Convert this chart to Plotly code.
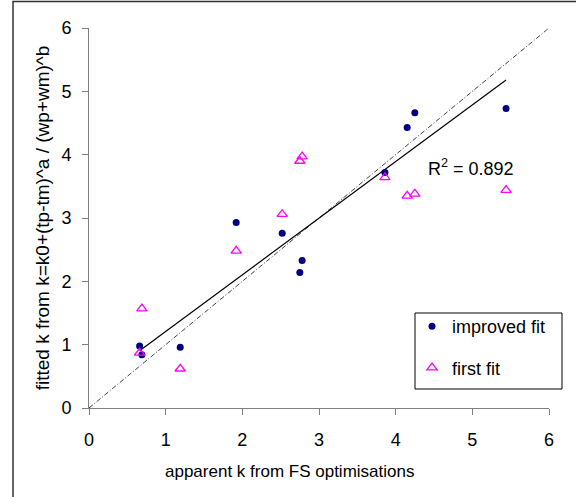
import numpy as np
import plotly.graph_objects as go

# apparent k from FS optimisations (x), fitted k (y)
x_vals = [0.66, 0.69, 1.19, 1.92, 2.52, 2.75, 2.78, 3.86, 4.15, 4.25, 5.44]
improved_fit = [0.98, 0.84, 0.96, 2.93, 2.76, 2.14, 2.33, 3.72, 4.43, 4.66, 4.73]
first_fit = [0.87, 1.57, 0.62, 2.48, 3.06, 3.90, 3.97, 3.64, 3.35, 3.38, 3.44]
tick_vals = [0, 1, 2, 3, 4, 5, 6]
r2_text = "R<sup>2</sup> = 0.892"
x_title = "apparent k from FS optimisations"
y_title = "fitted k from k=k0+(tp-tm)^a / (wp+wm)^b"

FONT = "Liberation Sans, Arial, sans-serif"

slope, intercept = np.polyfit(x_vals, improved_fit, 1)
tx = [min(x_vals), max(x_vals)]
ty = [slope * v + intercept for v in tx]

fig = go.Figure()
# 1:1 line
fig.add_trace(go.Scatter(x=[0, 6], y=[0, 6], mode="lines",
                         line=dict(color="#444444", width=1, dash="5px,2px,1px,2px"),
                         showlegend=False, hoverinfo="skip"))
# trendline
fig.add_trace(go.Scatter(x=tx, y=ty, mode="lines",
                         line=dict(color="black", width=1.2),
                         showlegend=False, hoverinfo="skip"))
fig.add_trace(go.Scatter(x=x_vals, y=improved_fit, mode="markers", name="improved fit",
                         legendgroup="a",
                         marker=dict(symbol="circle", size=7, color="#000080")))
fig.add_trace(go.Scatter(x=x_vals, y=first_fit, mode="markers", name="first fit",
                         legendgroup="b",
                         marker=dict(symbol="triangle-up-open", size=9, color="#FF00FF",
                                     line=dict(width=1.3, color="#FF00FF"))))

axis_common = dict(range=[0, 6], tickvals=tick_vals, showgrid=False, zeroline=False,
                   showline=True, linecolor="#808080", linewidth=1,
                   ticks="outside", ticklen=6, tickcolor="#808080",
                   tickfont=dict(family=FONT, size=18, color="black"))

fig.update_layout(
    width=576, height=497,
    margin=dict(l=89, r=27, t=28, b=89),
    paper_bgcolor="white", plot_bgcolor="white",
    font=dict(family=FONT, color="black"),
    xaxis=dict(**axis_common, ticklabelstandoff=9),
    yaxis=dict(**axis_common, ticklabelstandoff=7,
               title=dict(text=y_title,
                          font=dict(family=FONT, size=19), standoff=6)),
    legend=dict(x=(412 - 89) / 460, y=(408 - 308) / 380, xanchor="left", yanchor="top",
                borderwidth=0, bgcolor="rgba(0,0,0,0)",
                font=dict(family=FONT, size=18),
                traceorder="grouped", tracegroupgap=15,
                itemsizing="trace"),
    showlegend=True,
)

# legend frame
fig.add_shape(type="rect", xref="paper", yref="paper",
              x0=(415 - 89) / 460, x1=(562 - 89) / 460,
              y0=(408 - 389) / 380, y1=(408 - 313) / 380,
              line=dict(color="black", width=1), fillcolor="white", layer="above")

fig.add_annotation(xref="paper", yref="paper",
                   x=(289 - 89) / 460, y=(408 - 471) / 380,
                   xanchor="center", yanchor="middle",
                   text=x_title, showarrow=False,
                   font=dict(family=FONT, size=17, color="black"))

fig.add_annotation(xref="paper", yref="paper",
                   x=(426 - 89) / 460, y=(408 - 167) / 380,
                   xanchor="left", yanchor="middle",
                   text=r2_text, showarrow=False,
                   font=dict(family=FONT, size=18, color="black"))

# outer chart-area frame
fig.add_shape(type="rect", xref="paper", yref="paper",
              x0=(13 - 89) / 460, x1=(590 - 89) / 460,
              y0=(408 - 510) / 380, y1=(408 - 1.5) / 380,
              line=dict(color="#333333", width=1.5), layer="below")

fig.write_html("out.html")
